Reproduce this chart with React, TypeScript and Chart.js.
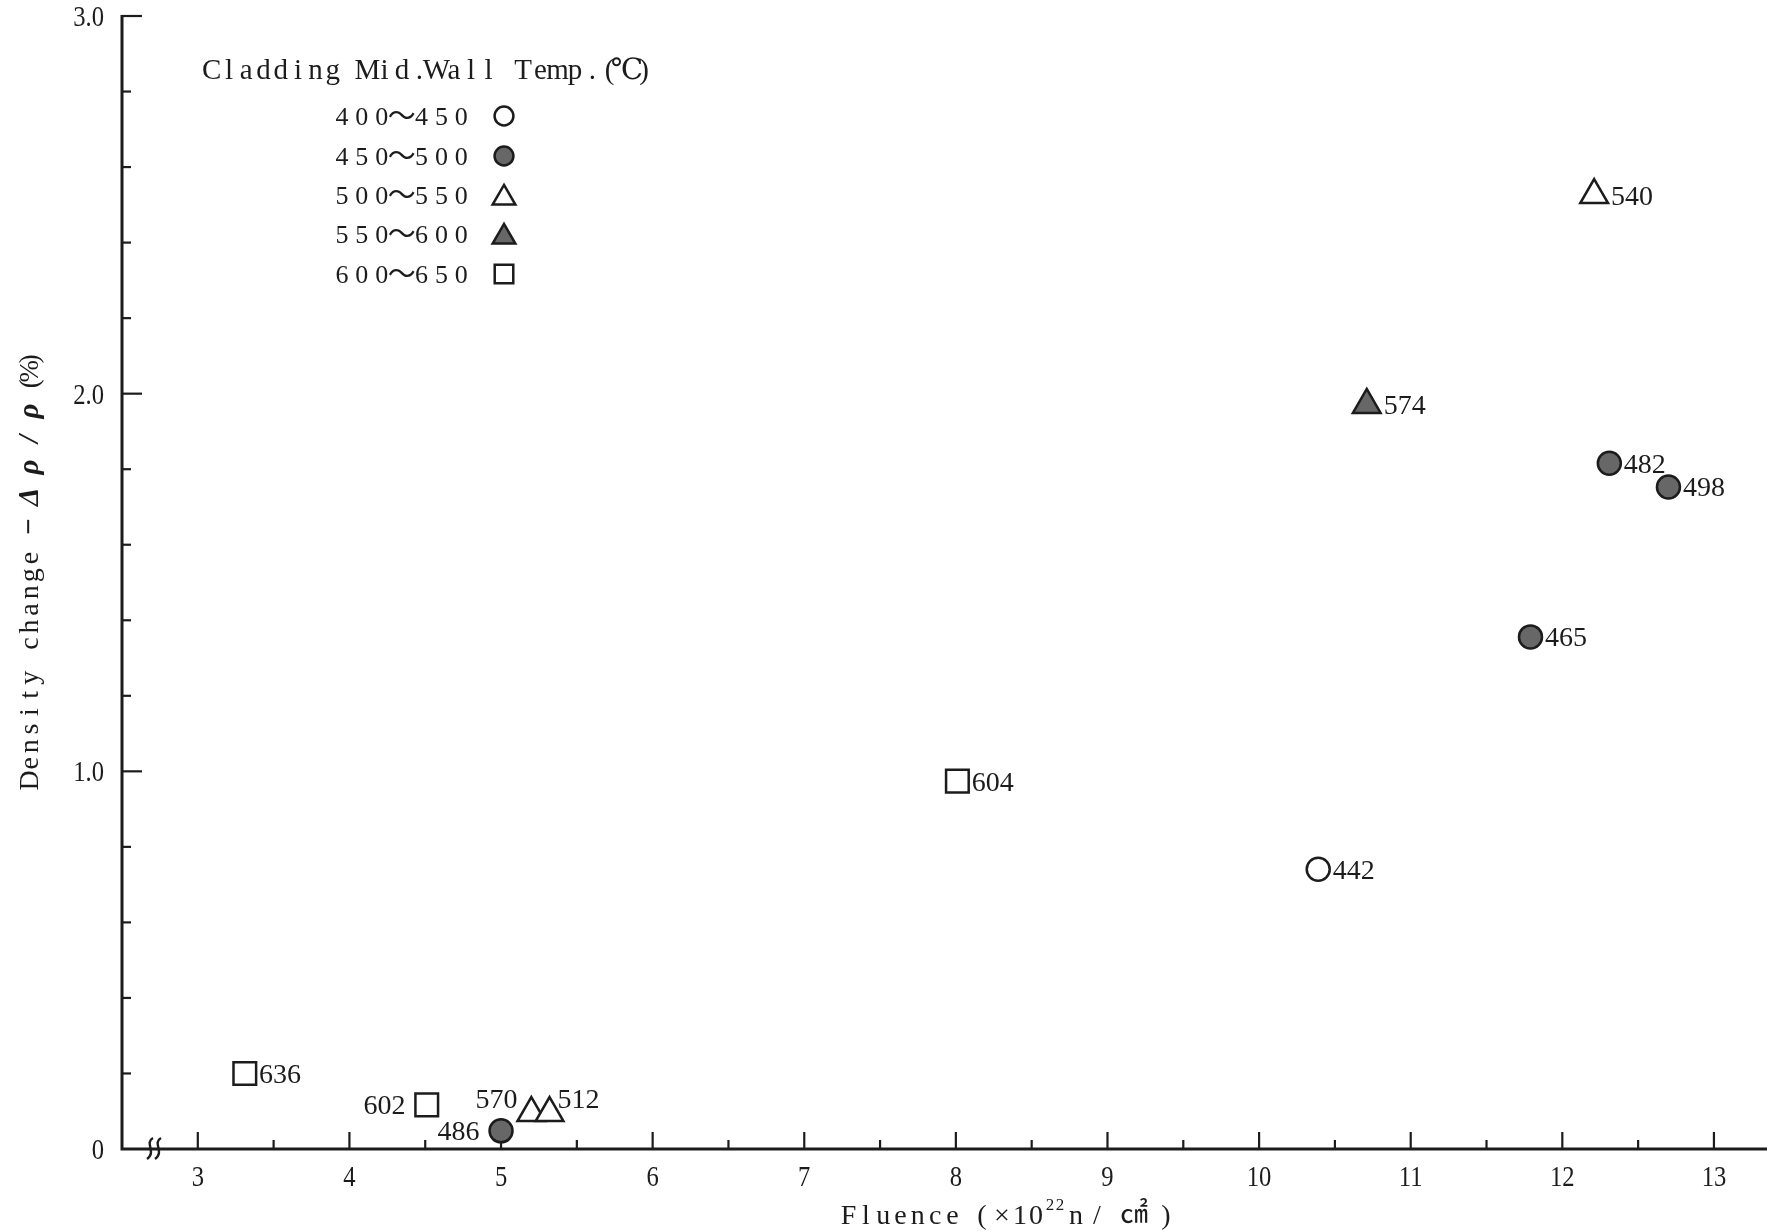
import React, { useEffect, useRef } from 'react';
import { Chart, registerables } from 'chart.js';

Chart.register(...registerables);

// ---- data ----
const RANGE_LABELS = ['400~450', '450~500', '500~550', '550~600', '600~650'];

// fluence (x10^22 n/cm2), density change -Δρ/ρ (%), cladding mid-wall temperature (°C)
const fluence = [3.31, 4.51, 5.0, 5.2, 5.32, 8.01, 10.39, 10.71, 12.21, 12.31, 12.7, 11.79];
const densityChange = [0.2, 0.117, 0.048, 0.095, 0.095, 0.974, 0.741, 1.97, 2.526, 1.816, 1.753, 1.356];
const midWallTemp = [636, 602, 486, 570, 512, 604, 442, 574, 540, 482, 498, 465];
// symbol class (index into RANGE_LABELS) used for each specimen
const symbolClass = [4, 4, 1, 2, 2, 4, 0, 3, 2, 1, 1, 1];

// where each temperature annotation sits relative to its marker
const labelSide = ['right', 'left', 'left', 'upperLeft', 'upperRight', 'right', 'right', 'right', 'right', 'right', 'right', 'right'];

const xTickValues = [3, 4, 5, 6, 7, 8, 9, 10, 11, 12, 13];
const yTickValues = [0, 1, 2, 3];
const yTickLabels = ['0', '1.0', '2.0', '3.0'];

const LEGEND_TITLE = 'Cladding Mid.Wall Temp.(\u2103)';

// ---- styles ----
const INK = '#1c1c1c';
const SHADE = '#676767';
const SERIF = '"Liberation Serif", "DejaVu Serif", serif';
const CJK = '"Noto Sans CJK JP", sans-serif';

type MarkerStyle = { shape: 'circle' | 'triangle' | 'rect'; filled: boolean; radius: number; half: number };
const markerStyles: MarkerStyle[] = [
  { shape: 'circle', filled: false, radius: 11.5, half: 11.5 },
  { shape: 'circle', filled: true, radius: 11.5, half: 11.5 },
  { shape: 'triangle', filled: false, radius: 16, half: 13.9 },
  { shape: 'triangle', filled: true, radius: 16, half: 13.9 },
  { shape: 'rect', filled: false, radius: 16, half: 11.3 },
];

const datasets = RANGE_LABELS.map((label, r) => {
  const st = markerStyles[r];
  const pts: { x: number; y: number; t: number; side: string }[] = [];
  midWallTemp.forEach((t, i) => {
    if (symbolClass[i] === r) pts.push({ x: fluence[i], y: densityChange[i], t, side: labelSide[i] });
  });
  return {
    label,
    data: pts,
    pointStyle: st.shape,
    pointRadius: st.radius,
    pointHoverRadius: st.radius,
    backgroundColor: st.filled ? SHADE : '#ffffff',
    borderColor: INK,
    pointBorderWidth: 2.5,
    borderWidth: 2.5,
    showLine: false,
  };
});

// draws text one glyph per fixed-width cell (typewriter lettering)
function drawCells(ctx: CanvasRenderingContext2D, text: string, startX: number, baseY: number, pitch: number) {
  const chars = Array.from(text);
  const base = ctx.font;
  ctx.textAlign = 'center';
  chars.forEach((c, i) => {
    if (c === ' ') return;
    const cx = startX + pitch * (i + 0.5);
    if (c === '~') {
      ctx.font = `28px ${CJK}`;
      ctx.fillText('\u301c', cx, baseY + 1);
      ctx.font = base;
    } else {
      ctx.fillText(c, cx, baseY);
    }
  });
}

function drawNarrow(ctx: CanvasRenderingContext2D, text: string, x: number, y: number, align: CanvasTextAlign, sx = 0.82) {
  ctx.save();
  ctx.translate(x, y);
  ctx.scale(sx, 1);
  ctx.textAlign = align;
  ctx.fillText(text, 0, 0);
  ctx.restore();
}

function drawSymbol(ctx: CanvasRenderingContext2D, st: MarkerStyle, x: number, y: number, scale: number) {
  ctx.save();
  ctx.lineWidth = 2.5;
  ctx.strokeStyle = INK;
  ctx.fillStyle = st.filled ? SHADE : '#ffffff';
  ctx.beginPath();
  const r = st.radius * scale;
  if (st.shape === 'circle') {
    ctx.arc(x, y, r, 0, Math.PI * 2);
  } else if (st.shape === 'triangle') {
    ctx.moveTo(x, y - r);
    ctx.lineTo(x + r * Math.sin(Math.PI / 3), y + r / 2);
    ctx.lineTo(x - r * Math.sin(Math.PI / 3), y + r / 2);
    ctx.closePath();
  } else {
    const s = r * Math.SQRT1_2;
    ctx.rect(x - s, y - s, 2 * s, 2 * s);
  }
  ctx.fill();
  ctx.stroke();
  ctx.restore();
}

const framePlugin = {
  id: 'paperFrame',
  beforeDatasetsDraw(chart: any) {
    const { ctx, chartArea } = chart;
    const xs = chart.scales.x;
    const ys = chart.scales.y;
    const x0 = chartArea.left;
    const yb = chartArea.bottom;
    ctx.save();
    ctx.strokeStyle = INK;
    ctx.lineCap = 'butt';

    // axis lines
    ctx.lineWidth = 3;
    ctx.beginPath();
    ctx.moveTo(x0, chartArea.top - 1);
    ctx.lineTo(x0, yb);
    ctx.lineTo(chartArea.right, yb);
    ctx.stroke();

    // x ticks (inward), majors at integers, minors at halves
    ctx.lineWidth = 2.2;
    for (let v = 3; v <= xs.max + 1e-9; v += 0.5) {
      const px = xs.getPixelForValue(v);
      const major = Math.abs(v - Math.round(v)) < 1e-6;
      ctx.beginPath();
      ctx.moveTo(px, yb);
      ctx.lineTo(px, yb - (major ? 17 : 9));
      ctx.stroke();
    }
    // y ticks (inward), majors at whole percents, minors every 0.2
    for (let k = 1; k <= 15; k++) {
      const v = k * 0.2;
      const py = ys.getPixelForValue(v);
      const major = k % 5 === 0;
      ctx.beginPath();
      ctx.moveTo(x0, py);
      ctx.lineTo(x0 + (major ? 20 : 9), py);
      ctx.stroke();
    }

    // axis break mark on x
    ctx.lineWidth = 2.4;
    [150, 158].forEach((bx) => {
      ctx.beginPath();
      ctx.moveTo(bx + 3, yb - 11);
      ctx.bezierCurveTo(bx - 6, yb - 6, bx + 7, yb + 3, bx - 3, yb + 10);
      ctx.stroke();
    });

    // tick labels
    ctx.fillStyle = INK;
    ctx.font = `30px ${SERIF}`;
    ctx.textBaseline = 'alphabetic';
    xTickValues.forEach((v) => {
      drawNarrow(ctx, String(v), xs.getPixelForValue(v), yb + 37, 'center');
    });
    yTickValues.forEach((v, i) => {
      drawNarrow(ctx, yTickLabels[i], 104, ys.getPixelForValue(v) + 10, 'right');
    });

    // x axis title
    ctx.font = `28px ${SERIF}`;
    const tb = 1224;
    drawCells(ctx, 'Fluence', 840, tb, 17.3);
    ctx.textAlign = 'center';
    ctx.fillText('(', 982, tb);
    ctx.fillText('\u00d7', 1002, tb);
    ctx.fillText('1', 1020, tb);
    ctx.fillText('0', 1036, tb);
    ctx.font = `17px ${SERIF}`;
    ctx.fillText('2', 1050, tb - 14);
    ctx.fillText('2', 1060, tb - 14);
    ctx.font = `28px ${SERIF}`;
    ctx.fillText('n', 1076, tb);
    ctx.fillText('/', 1097, tb);
    ctx.font = `28px ${CJK}`;
    ctx.fillText('\u33a0', 1134, tb - 1);
    ctx.font = `28px ${SERIF}`;
    ctx.fillText(')', 1166, tb);

    // y axis title (rotated, reading upward)
    ctx.save();
    ctx.translate(28, 789);
    ctx.rotate(-Math.PI / 2);
    ctx.font = `28px ${SERIF}`;
    drawCells(ctx, 'Density change', 0, 10, 17.1);
    ctx.font = `italic bold 29px ${SERIF}`;
    ctx.textAlign = 'center';
    const greek = ['\u2212', '\u0394', '\u03c1', '/', '\u03c1'];
    const gpos = [262, 292, 322, 350, 378];
    greek.forEach((g, i) => ctx.fillText(g, gpos[i], 10));
    ctx.font = `27px ${SERIF}`;
    drawCells(ctx, '(%)', 399, 10, 12.5);
    ctx.restore();

    // legend
    ctx.font = `29px ${SERIF}`;
    drawCells(ctx, LEGEND_TITLE, 203, 79, 17.3);
    ctx.font = `26px ${SERIF}`;
    const rowY = [116, 156, 195, 234, 274];
    RANGE_LABELS.forEach((lab, r) => {
      ctx.fillStyle = INK;
      drawCells(ctx, lab, 332, rowY[r] + 9, 19.9);
      drawSymbol(ctx, markerStyles[r], 504, rowY[r] + (markerStyles[r].shape === 'triangle' ? 3 : 0), 0.82);
    });

    ctx.restore();
  },
  afterDatasetsDraw(chart: any) {
    const { ctx } = chart;
    ctx.save();
    ctx.fillStyle = INK;
    ctx.font = `28px ${SERIF}`;
    ctx.textBaseline = 'alphabetic';
    chart.data.datasets.forEach((ds: any, d: number) => {
      const meta = chart.getDatasetMeta(d);
      const hw = markerStyles[d].half;
      ds.data.forEach((p: any, i: number) => {
        const el = meta.data[i];
        const txt = String(p.t);
        let tx = el.x + hw + 3;
        let ty = el.y + 9.5;
        let align: CanvasTextAlign = 'left';
        if (p.side === 'left') {
          tx = el.x - hw - 10;
          align = 'right';
        } else if (p.side === 'upperLeft') {
          tx = el.x - hw;
          ty = el.y - 5;
          align = 'right';
        } else if (p.side === 'upperRight') {
          tx = el.x + 8;
          ty = el.y - 5;
        }
        ctx.textAlign = align;
        ctx.fillText(txt, tx, ty);
      });
    });
    ctx.restore();
  },
};

export default function App() {
  const ref = useRef<HTMLCanvasElement>(null);

  useEffect(() => {
    if (!ref.current) return;
    const chart = new Chart(ref.current, {
      type: 'scatter',
      data: { datasets: datasets as any },
      options: {
        responsive: false,
        animation: false,
        devicePixelRatio: 1,
        layout: { autoPadding: false, padding: { left: 122, top: 16, right: 0, bottom: 83 } },
        scales: {
          x: { type: 'linear', min: 2.5, max: 13.35, display: false },
          y: { type: 'linear', min: 0, max: 3, display: false },
        },
        plugins: {
          legend: { display: false },
          tooltip: { enabled: false },
        },
        events: [],
      },
      plugins: [framePlugin],
    });
    return () => chart.destroy();
  }, []);

  return (
    <div style={{ position: 'absolute', left: 0, top: 0, width: 1767, height: 1232, background: '#ffffff' }}>
      <canvas ref={ref} width={1767} height={1232} style={{ display: 'block', width: 1767, height: 1232 }} />
    </div>
  );
}
